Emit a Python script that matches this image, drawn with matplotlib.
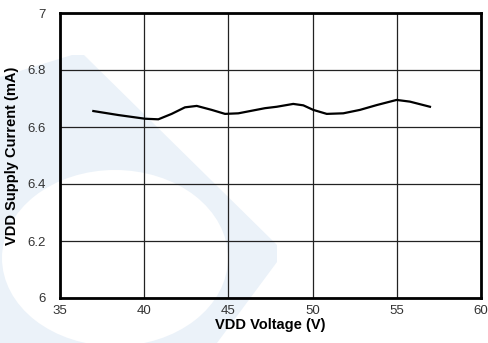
import numpy as np
import matplotlib.pyplot as plt
from matplotlib.patches import Polygon, Ellipse

plt.rcParams['font.family'] = ['Liberation Sans', 'DejaVu Sans']

# VDD supply current vs VDD voltage
voltage = [36.98, 38.46, 40.05, 40.84, 41.63, 42.42, 43.12, 44.01, 44.80,
           45.59, 46.38, 47.17, 47.87, 48.85, 49.45, 50.04, 50.84, 51.82,
           52.81, 53.81, 54.99, 55.78, 56.97]
current = [6.656, 6.642, 6.629, 6.627, 6.646, 6.669, 6.674, 6.660, 6.646,
           6.648, 6.657, 6.666, 6.671, 6.681, 6.676, 6.660, 6.646, 6.648,
           6.660, 6.677, 6.695, 6.689, 6.671]

x_ticks = [35, 40, 45, 50, 55, 60]
y_ticks = [6, 6.2, 6.4, 6.6, 6.8, 7]
y_labels = ['6', '6.2', '6.4', '6.6', '6.8', '7']

W, H = 488, 343
fig = plt.figure(figsize=(W / 100, H / 100), dpi=100)

# faint watermark behind the plot
wm = '#ebf2f9'
def px(pts):
    return [(x / W, 1 - y / H) for x, y in pts]

fig.patches.append(Polygon(px([(0, 77), (72, 55), (84, 55), (277, 245),
                               (277, 262), (217, 343), (0, 343)]),
                           closed=True, transform=fig.transFigure,
                           facecolor=wm, edgecolor='none', zorder=0))
fig.patches.append(Ellipse((115 / W, 1 - 258 / H), 226 / W, 176 / H,
                           transform=fig.transFigure, facecolor='white',
                           edgecolor='none', zorder=0.5))

ax = fig.add_axes([60 / W, 1 - 298 / H, 421 / W, 285 / H])
ax.set_zorder(2)
ax.set_facecolor('none')

ax.plot(voltage, current, color='black', linewidth=1.6, zorder=3)

ax.set_xlim(35, 60)
ax.set_ylim(6, 7)
ax.set_xticks(x_ticks)
ax.set_yticks(y_ticks)
ax.set_yticklabels(y_labels)
ax.grid(True, color='#222222', linewidth=0.9)
ax.tick_params(length=0, labelsize=9.5, colors='#333333')
ax.tick_params(axis='x', pad=5)
ax.tick_params(axis='y', pad=10)
for s in ax.spines.values():
    s.set_linewidth(2)
    s.set_color('black')

ax.set_xlabel('VDD Voltage (V)', fontsize=10.5, fontweight='bold', labelpad=1)
ax.set_ylabel('VDD Supply Current (mA)', fontsize=10.5, fontweight='bold', labelpad=6)

fig.savefig('out.png', dpi=100)
